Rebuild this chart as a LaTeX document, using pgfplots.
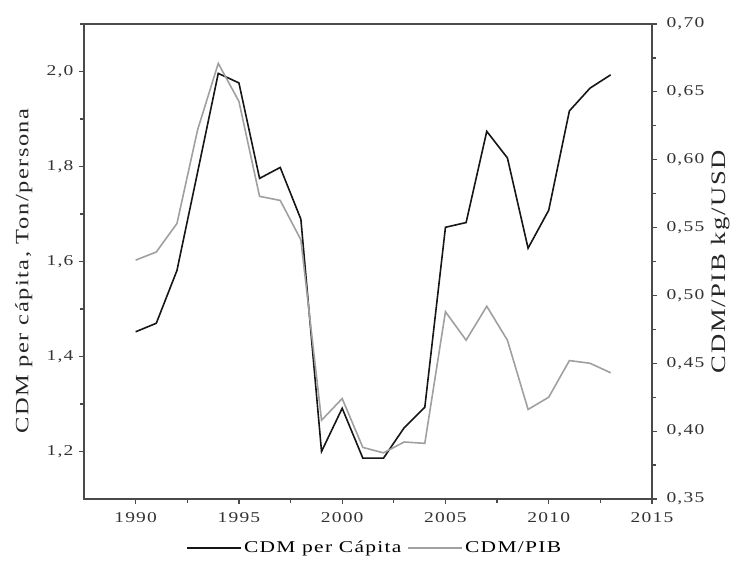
\documentclass[border=0pt]{standalone}
\usepackage{fontspec}
\setmainfont{Liberation Serif}[FakeStretch=1.3, LetterSpace=8]
\usepackage{pgfplots}
\pgfplotsset{compat=1.18}
\definecolor{axisgray}{HTML}{4A4A4A}
\definecolor{cdmblack}{HTML}{161616}
\definecolor{cdmgray}{HTML}{A0A0A0}

\pgfplotsset{
  common/.style={
    scale only axis,
    at={(0pt,0pt)}, anchor=south west,
    width=568pt, height=475pt,
    xmin=1987.5, xmax=2015,
    axis line style={axisgray, line width=1.6pt},
    tick style={axisgray, line width=1.2pt},
    major tick length=5pt,
    minor tick length=4pt,
    tick align=outside,
    ticklabel style={font=\fontsize{15}{17}\selectfont, text=black!80},
    /pgf/number format/assume math mode=true,
    /pgf/number format/use comma,
    /pgf/number format/1000 sep={},
  },
}

\begin{document}
\begin{tikzpicture}
\path[use as bounding box] (-84pt,-63pt) rectangle (655pt,499pt);
\begin{axis}[
  common,
  ymin=1.1, ymax=2.1,
  ytick={1.2,1.4,...,2.01},
  minor ytick={1.3,1.5,...,2.01},
  xtick={1990,1995,...,2015},
  minor xtick={1992.5,1997.5,...,2012.5},
  xtick pos=bottom, ytick pos=left,
  xticklabel style={yshift=-5pt},
  yticklabel style={xshift=-2pt, /pgf/number format/fixed, /pgf/number format/fixed zerofill, /pgf/number format/precision=1},
  ylabel={CDM per cápita, Ton/persona},
  ylabel style={at={(axis description cs:-0.106,0.48)}, anchor=center,
    font=\fontsize{18.8}{20}\selectfont, text=black!85},
]
\addplot[cdmblack, line width=1.6pt] coordinates {
  (1990,1.452) (1991,1.470) (1992,1.581) (1993,1.788) (1994,1.996)
  (1995,1.976) (1996,1.775) (1997,1.798) (1998,1.689) (1999,1.200)
  (2000,1.291) (2001,1.186) (2002,1.186) (2003,1.250) (2004,1.293)
  (2005,1.672) (2006,1.682) (2007,1.874) (2008,1.818) (2009,1.628)
  (2010,1.708) (2011,1.917) (2012,1.965) (2013,1.993)
};
\end{axis}
\begin{axis}[
  common,
  ymin=0.35, ymax=0.70,
  ytick={0.35,0.40,...,0.701},
  minor ytick={0.375,0.425,...,0.70},
  xtick=\empty,
  ytick pos=right,
  yticklabel style={xshift=6pt, /pgf/number format/fixed, /pgf/number format/fixed zerofill, /pgf/number format/precision=2},
  ylabel={CDM/PIB kg/USD},
  ylabel style={at={(axis description cs:1.12,0.5)}, anchor=center, rotate=0,
    font=\fontsize{20.5}{22}\selectfont, text=black!85},
  legend style={at={(0.512,-0.103)}, anchor=center, draw=none, fill=none,
    legend columns=2, font=\fontsize{16.5}{18}\selectfont,
    /tikz/every even column/.append style={column sep=4pt}},
  legend image code/.code={\draw[#1] (0pt,0pt) -- (54pt,0pt);},
]
\addlegendimage{cdmblack, line width=1.6pt}
\addlegendentry{CDM per Cápita}
\addplot[cdmgray, line width=1.6pt] coordinates {
  (1990,0.526) (1991,0.532) (1992,0.553) (1993,0.622) (1994,0.671)
  (1995,0.643) (1996,0.573) (1997,0.570) (1998,0.541) (1999,0.408)
  (2000,0.424) (2001,0.388) (2002,0.384) (2003,0.392) (2004,0.391)
  (2005,0.488) (2006,0.467) (2007,0.492) (2008,0.467) (2009,0.416)
  (2010,0.425) (2011,0.452) (2012,0.450) (2013,0.443)
};
\addlegendentry{CDM/PIB}
\end{axis}
\end{tikzpicture}
\end{document}
